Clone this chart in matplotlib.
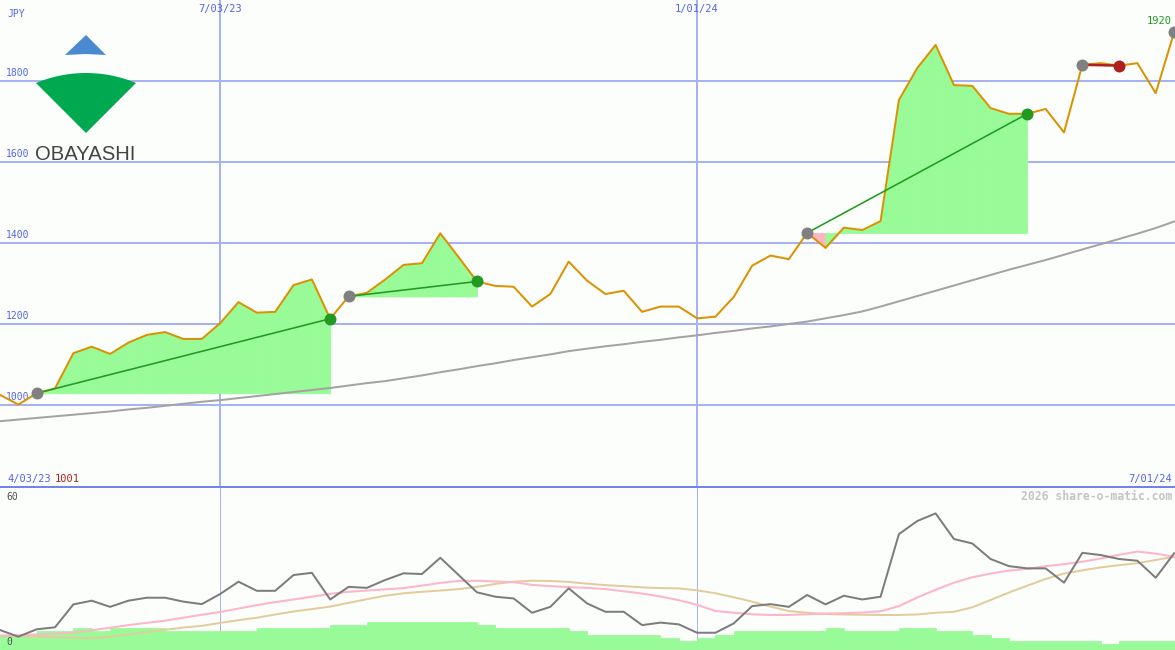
import matplotlib
matplotlib.use("Agg")
import matplotlib.pyplot as plt
from matplotlib.transforms import Affine2D
from matplotlib.patches import Polygon
from matplotlib.lines import Line2D
import numpy as np

W, H = 1175, 650

# weekly closes, 65 weeks (JPY)
price = [1025, 1001, 1029, 1041, 1128, 1144, 1126, 1154, 1173, 1180,
         1163, 1163, 1202, 1254, 1228, 1230, 1296, 1310, 1213, 1268,
         1277, 1310, 1346, 1350, 1424, 1365, 1305, 1294, 1292, 1243,
         1274, 1354, 1307, 1274, 1282, 1230, 1243, 1243, 1214, 1218,
         1267, 1344, 1369, 1360, 1425, 1388, 1438, 1432, 1454, 1753,
         1832, 1889, 1790, 1788, 1733, 1719, 1719, 1731, 1673, 1840,
         1844, 1838, 1844, 1770, 1920]

# long moving average (grey)
ma_long = [960, 964, 968, 972, 976, 980, 984, 989, 993, 998,
           1003, 1008, 1012, 1017, 1022, 1027, 1032, 1037, 1042, 1048,
           1054, 1059, 1066, 1073, 1081, 1088, 1096, 1103, 1111, 1118,
           1125, 1133, 1139, 1145, 1150, 1156, 1161, 1167, 1172, 1178,
           1183, 1189, 1194, 1200, 1206, 1214, 1222, 1231, 1243, 1256,
           1269, 1282, 1295, 1308, 1321, 1334, 1346, 1358, 1371, 1384,
           1397, 1410, 1423, 1437, 1453]

# lower panel indicator and its two averages
osc = [7.3, 4.6, 7.6, 8.4, 17.7, 19.2, 16.7, 19.2, 20.4, 20.4,
       18.8, 17.8, 21.9, 26.9, 23.2, 23.2, 29.6, 30.5, 19.7, 24.8,
       24.4, 27.6, 30.3, 30.0, 36.6, 29.6, 22.6, 20.8, 20.1, 14.3,
       16.7, 24.2, 18.1, 14.7, 14.7, 9.3, 10.3, 9.6, 6.2, 6.2,
       10.0, 17.0, 17.8, 16.7, 21.5, 17.7, 21.2, 19.7, 20.8, 46.2,
       51.5, 54.6, 44.2, 42.4, 36.1, 33.2, 32.3, 32.3, 26.5, 38.6,
       37.7, 36.1, 35.4, 28.5, 38.4]
osc_fast = [5.0, 5.2, 5.5, 5.8, 6.3, 7.2, 8.2, 9.3, 10.2, 11.1,
            12.3, 13.5, 14.6, 16.0, 17.4, 18.6, 19.7, 20.8, 22.0, 22.8,
            23.3, 23.8, 24.3, 25.3, 26.4, 27.2, 27.3, 27.0, 26.7, 25.6,
            25.1, 24.7, 24.4, 23.9, 23.0, 22.1, 20.9, 19.4, 17.5, 15.0,
            14.3, 13.7, 13.4, 13.4, 13.7, 14.0, 14.1, 14.4, 14.9, 17.0,
            20.5, 23.6, 26.5, 28.7, 30.2, 31.4, 32.1, 33.2, 34.0, 35.0,
            36.3, 37.8, 39.1, 38.3, 37.0]
osc_slow = [5.0, 4.8, 4.6, 4.4, 4.2, 3.9, 4.6, 5.5, 6.5, 7.4,
            8.3, 9.0, 10.2, 11.3, 12.3, 13.6, 14.8, 15.8, 16.8, 18.3,
            19.8, 21.2, 22.2, 22.8, 23.3, 23.9, 24.8, 26.0, 26.9, 27.3,
            27.2, 26.8, 26.1, 25.5, 25.1, 24.6, 24.3, 24.2, 23.4, 22.2,
            20.6, 18.8, 16.8, 15.0, 14.3, 13.8, 13.6, 13.5, 13.4, 13.4,
            13.6, 14.3, 14.7, 16.5, 19.5, 22.5, 25.3, 28.0, 30.2, 31.5,
            32.7, 33.6, 34.4, 35.7, 37.0]

volume = [15, 15, 19, 19, 22, 19, 22, 22, 22, 19,
          19, 19, 19, 19, 22, 22, 22, 22, 25, 25,
          28, 28, 28, 28, 28, 28, 25, 22, 22, 22,
          22, 19, 15, 15, 15, 15, 12, 9, 12, 15,
          19, 19, 19, 19, 19, 22, 19, 19, 19, 22,
          22, 19, 19, 15, 12, 9, 9, 9, 9, 9,
          6, 9, 9, 9, 9]

# (entry week, exit week)
trades = [(2, 18), (19, 26), (44, 56), (59, 61)]
open_entry = 64
price_ticks = [1000, 1200, 1400, 1600, 1800]
date_ticks = [12, 38]
date_labels = ["7/03/23", "1/01/24"]
first_date, last_date = "4/03/23", "7/01/24"
low_label, last_label = "1001", "1920"

BG = "#fcfefc"
GRID = "#a6b2f2"
BLUE = "#5464e6"
GREEN_FILL = "#98fb98"
PINK_FILL = "#ffb6c1"
px = 72 / 100  # one pixel in points

fig = plt.figure(figsize=(W / 100, H / 100), dpi=100, facecolor=BG)
img = Affine2D().scale(1 / W, -1 / H).translate(0, 1) + fig.transFigure

x = np.arange(len(price))

# ---- price panel
ax = fig.add_axes([0, 163 / H, 1, 487 / H], facecolor=BG)
ax.set_xlim(0, 64.05)
ax.set_ylim(797.5, 2000)
ax.axis("off")
for t in price_ticks:
    ax.axhline(t, color=GRID, lw=2 * px, zorder=0)
    ax.annotate(str(t), (0, t), xytext=(4, 2), textcoords="offset points",
                color=BLUE, fontsize=7, family="DejaVu Sans Mono", va="bottom")
for d in date_ticks:
    ax.axvline(d, color=GRID, lw=2 * px, zorder=0)

for a, b in trades:
    base = price[a]
    for i in range(a, b):
        col = GREEN_FILL if price[i + 1] >= base else PINK_FILL
        ax.fill_between(x[i:i + 2], price[i:i + 2], base, facecolor=col,
                        edgecolor=col, lw=0.8 * px, zorder=1)

ax.plot(x, ma_long, color="#a3a3a3", lw=2 * px, zorder=2)
ax.plot(x, price, color="#dc9200", lw=2 * px, zorder=3)
for a, b in trades:
    win = price[b] >= price[a]
    col = "#229a22" if win else "#b02020"
    ax.plot([a, b], [price[a], price[b]], color=col, lw=(1.6 if win else 2.5) * px, zorder=4)
    ax.plot(a, price[a], "o", color="#808080", ms=12 * px, mew=0, zorder=5)
    ax.plot(b, price[b], "o", color=col, ms=12 * px, mew=0, zorder=5)
ax.plot(open_entry, price[open_entry], "o", color="#808080", ms=12 * px, mew=0, zorder=5)

# ---- indicator panel
bx = fig.add_axes([0, 0, 1, 163 / H])
vx = bx.twinx()
bx.set_zorder(vx.get_zorder() + 1)
bx.patch.set_visible(False)
vx.set_facecolor(BG)
for a_ in (bx, vx):
    a_.set_xlim(0, 64.05)
    a_.axis("off")
bx.set_ylim(-0.8, 65.3)
vx.set_ylim(0, 163)
for d in date_ticks:
    vx.axvline(d, color=GRID, lw=1 * px, zorder=0)
vx.bar(x, volume, width=1.0, align="edge", color=GREEN_FILL, ec=GREEN_FILL,
       lw=0.8 * px, zorder=1)
bx.plot(x, osc_slow, color="#e2cc9c", lw=2 * px)
bx.plot(x, osc_fast, color="#ffb4c8", lw=2 * px)
bx.plot(x, osc, color="#7c7c7c", lw=2 * px)

fig.lines.append(Line2D([0, W], [487, 487], transform=img, color="#7383ea", lw=2 * px))

# ---- texts
mono = "DejaVu Sans Mono"
fig.text(7, 14, "JPY", transform=img, color=BLUE, fontsize=7, family=mono, va="center")
for d, lab in zip(date_ticks, date_labels):
    fig.text(d * 1174 / 64, 9, lab, transform=img, color=BLUE, fontsize=7.5,
             family=mono, ha="center", va="center")
fig.text(7, 479, first_date, transform=img, color=BLUE, fontsize=7.5, family=mono, va="center")
fig.text(55, 479, low_label, transform=img, color="#b02020", fontsize=7.5, family=mono, va="center")
fig.text(1172, 479, last_date, transform=img, color=BLUE, fontsize=7.5, family=mono,
         ha="right", va="center")
fig.text(1172, 21, last_label, transform=img, color="#229a22", fontsize=7.5, family=mono,
         ha="right", va="center")
fig.text(1172, 496, "2026 share-o-matic.com", transform=img, color="#c4c4c4",
         fontsize=8.3, family=mono, weight="bold", ha="right", va="center")
fig.text(6, 497, "60", transform=img, color="#505050", fontsize=7, family=mono, va="center")
fig.text(6, 642, "0", transform=img, color="#505050", fontsize=7, family=mono, va="center")

# ---- logo
tri = [(86, 35), (106, 55), (86, 54), (65, 55)]
fig.patches.append(Polygon(tri, closed=True, transform=img, color="#4a8ad0", lw=0))
ang = np.linspace(np.arcsin(-50 / 130), np.arcsin(50 / 130), 30)
arc = [(86 + 130 * np.sin(t), 203 - 130 * np.cos(t)) for t in ang]
fan = [(86, 133)] + arc
fig.patches.append(Polygon(fan, closed=True, transform=img, color="#00a84f", lw=0))
fig.text(85, 155, "OBAYASHI", transform=img, color="#444444", fontsize=14.6,
         family="Liberation Sans", ha="center", va="center")

fig.savefig("out.png", dpi=100, facecolor=BG)
